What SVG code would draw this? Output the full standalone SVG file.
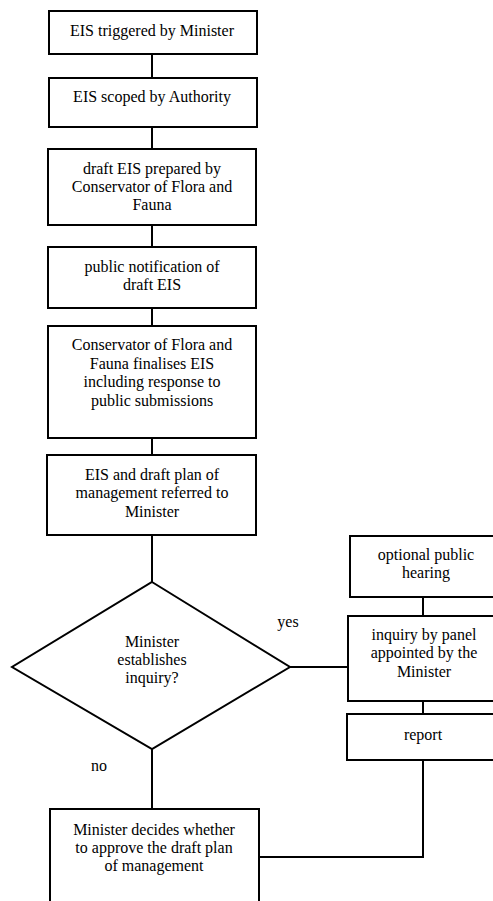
<svg xmlns="http://www.w3.org/2000/svg" width="493" height="901" viewBox="0 0 493 901">
<style>
.n{fill:#fff;stroke:#000;stroke-width:2}
.c{fill:none;stroke:#000;stroke-width:2}
text{font-family:'Liberation Serif','Times New Roman',serif;font-size:16px;fill:#000;text-anchor:middle}
</style>
<rect width="493" height="901" fill="#fff"/>
<g id="connectors">
<line class="c" x1="152" y1="54" x2="152" y2="78"/>
<line class="c" x1="152" y1="127" x2="152" y2="149"/>
<line class="c" x1="152" y1="225" x2="152" y2="247"/>
<line class="c" x1="152" y1="308" x2="152" y2="326"/>
<line class="c" x1="152" y1="438" x2="152" y2="455"/>
<line class="c" x1="152" y1="535" x2="152" y2="582"/>
<line class="c" x1="290" y1="667" x2="348" y2="667"/>
<line class="c" x1="423" y1="597" x2="423" y2="616"/>
<line class="c" x1="423" y1="701" x2="423" y2="714"/>
<line class="c" x1="152" y1="749" x2="152" y2="809"/>
<polyline class="c" points="423,760 423,857 259,857"/>
<text x="288" y="627">yes</text>
<text x="99" y="771">no</text>
</g>
<g id="n1"><rect class="n" x="49" y="11" width="208" height="43"/><text x="152" y="36">EIS triggered by Minister</text></g>
<g id="n2"><rect class="n" x="49" y="78" width="208" height="49"/><text x="152" y="102">EIS scoped by Authority</text></g>
<g id="n3"><rect class="n" x="48" y="149" width="208" height="76"/><text x="152" y="174">draft EIS prepared by</text><text x="152" y="192">Conservator of Flora and</text><text x="152" y="210">Fauna</text></g>
<g id="n4"><rect class="n" x="48" y="247" width="208" height="61"/><text x="152" y="272">public notification of</text><text x="152" y="290">draft EIS</text></g>
<g id="n5"><rect class="n" x="48" y="326" width="208" height="112"/><text x="152" y="350">Conservator of Flora and</text><text x="152" y="369">Fauna finalises EIS</text><text x="152" y="387">including response to</text><text x="152" y="406">public submissions</text></g>
<g id="n6"><rect class="n" x="47" y="455" width="209" height="80"/><text x="152" y="480">EIS and draft plan of</text><text x="152" y="498">management referred to</text><text x="152" y="517">Minister</text></g>
<g id="d1"><polygon class="n" points="152,582 290,667 152,749 12,667"/><text x="152" y="647">Minister</text><text x="152" y="665">establishes</text><text x="152" y="683">inquiry?</text></g>
<g id="n7"><rect class="n" x="350" y="536" width="150" height="61"/><text x="426" y="560">optional public</text><text x="426" y="578">hearing</text></g>
<g id="n8"><rect class="n" x="348" y="616" width="152" height="85"/><text x="424" y="640">inquiry by panel</text><text x="424" y="658">appointed by the</text><text x="424" y="677">Minister</text></g>
<g id="n9"><rect class="n" x="347" y="714" width="153" height="46"/><text x="423" y="740">report</text></g>
<g id="n10"><rect class="n" x="50" y="809" width="209" height="100"/><text x="154" y="835">Minister decides whether</text><text x="154" y="853">to approve the draft plan</text><text x="154" y="871">of management</text></g>
</svg>
